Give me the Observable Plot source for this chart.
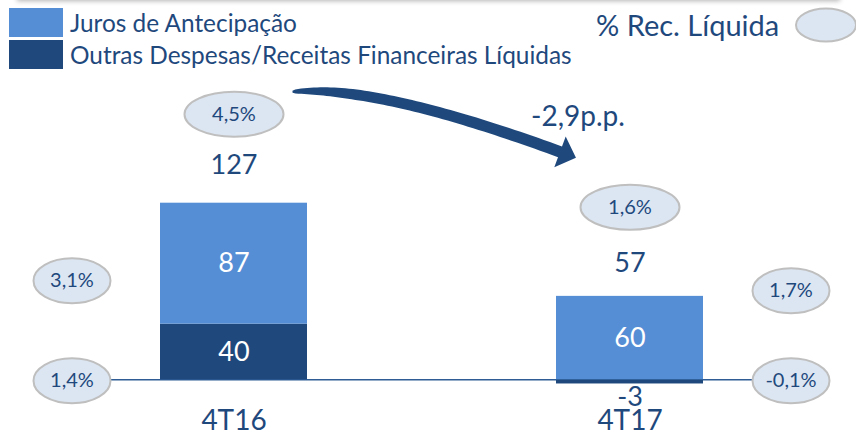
<!DOCTYPE html>
<html>
<head>
<meta charset="utf-8">
<script src="https://cdn.jsdelivr.net/npm/d3@7"></script>
<script src="https://cdn.jsdelivr.net/npm/@observablehq/plot@0.6"></script>
<style>
  html, body { margin: 0; padding: 0; background: #fff; }
  #wrap { position: relative; width: 856px; height: 432px; overflow: hidden; font-family: Lato, sans-serif; color: #1f497d; }
  #chart { position: absolute; left: 0; top: 0; }
  .shadow { position: absolute; left: 17px; width: 823px; top: -8px; height: 8px; box-shadow: 0 1px 5px rgba(0,0,0,0.30); background: #fff; }
  .lg-row { position: absolute; left: 9px; height: 29px; display: flex; align-items: center; }
  .lg-sw { width: 54px; height: 29px; margin-right: 7px; }
  .lg-tx { font-size: 24.4px; line-height: 29px; white-space: nowrap; }
  #pctlg { position: absolute; left: 596px; top: 10px; font-size: 29px; line-height: 29px; white-space: nowrap; }
  #pctell { position: absolute; left: 794px; top: 7px; }
</style>
</head>
<body>
<div id="wrap">
  <div id="chart"></div>
  <div class="shadow"></div>
  <div id="legend"></div>
</div>
<script>
// ---- data ----
const categories = ["4T16", "4T17"];
const seriesNames = ["Juros de Antecipação", "Outras Despesas/Receitas Financeiras Líquidas"];
const juros = [87, 60];
const outras = [40, -3];
const totals = [127, 57];
const pctTotal = ["4,5%", "1,6%"];
const pctJuros = ["3,1%", "1,7%"];
const pctOutras = ["1,4%", "-0,1%"];
const changeLabel = "-2,9p.p.";
const pctLegendLabel = "% Rec. Líquida";

// ---- styles ----
const navy = "#1f497d";
const light = "#558ed5";
const ellFill = "#dce6f2";
const ellStroke = "#bfbfbf";

// ---- legend (HTML) ----
const legend = document.getElementById("legend");
const swColors = [light, navy];
seriesNames.forEach((name, i) => {
  const row = document.createElement("div");
  row.className = "lg-row";
  row.style.top = (8 + i * 32) + "px";
  row.innerHTML = `<div class="lg-sw" style="background:${swColors[i]}"></div><div class="lg-tx"></div>`;
  row.querySelector(".lg-tx").textContent = name;
  legend.appendChild(row);
});
const pl = document.createElement("div");
pl.id = "pctlg"; pl.textContent = pctLegendLabel; legend.appendChild(pl);
legend.insertAdjacentHTML("beforeend",
  `<svg id="pctell" width="64" height="38"><ellipse cx="32" cy="18" rx="30" ry="16.5" fill="${ellFill}" stroke="${ellStroke}" stroke-width="2"/></svg>`);

// ---- tables ----
const rows = categories.flatMap((c, i) => [
  {cat: c, series: seriesNames[1], value: outras[i]},
  {cat: c, series: seriesNames[0], value: juros[i]}
]);
const tops = categories.map((c, i) => ({
  cat: c,
  total: totals[i],
  top: d3.sum([juros[i], outras[i]].filter(v => v > 0)),
  pct: pctTotal[i]
}));

// ellipse symbols
function ellipseSymbol(rx, ry) {
  const k = 0.5523;
  return {
    draw(ctx) {
      ctx.moveTo(rx, 0);
      ctx.bezierCurveTo(rx, k * ry, k * rx, ry, 0, ry);
      ctx.bezierCurveTo(-k * rx, ry, -rx, k * ry, -rx, 0);
      ctx.bezierCurveTo(-rx, -k * ry, -k * rx, -ry, 0, -ry);
      ctx.bezierCurveTo(k * rx, -ry, rx, -k * ry, rx, 0);
      ctx.closePath();
    }
  };
}
const wideEll = ellipseSymbol(49.5, 22.5);
const narrowEll = ellipseSymbol(38.5, 22.5);

const topDy = -89;

// side ellipses for each category
const sideMarks = categories.flatMap((c, i) => {
  const dx = i === 0 ? -162 : 161;
  const side = [
    {cat: c, base: 0, pct: pctJuros[i], dy: i === 0 ? -99 : -89},
    {cat: c, base: 0, pct: pctOutras[i], dy: 1}
  ];
  return side.flatMap(d => [
    Plot.dot([d], {x: "cat", y: "base", dx, dy: d.dy, r: 10, symbol: narrowEll, fill: ellFill, stroke: ellStroke, strokeWidth: 2}),
    Plot.text([d], {x: "cat", y: "base", dx, dy: d.dy, text: "pct", fontSize: 20, fill: navy})
  ]);
});

// curved arrow from 4T16 ellipse to 4T17 ellipse
function arrowMark(index, scales) {
  const x = scales.x, y = scales.y;
  const bw = x.bandwidth ? x.bandwidth() : 0;
  const e0 = [x(categories[0]) + bw / 2, y(tops[0].top) + topDy];
  const e1 = [x(categories[1]) + bw / 2, y(tops[1].top) + topDy];
  const S = [e0[0] + 59, e0[1] - 22];
  const C = [S[0] + 85, S[1] - 7];
  const B = [e1[0] - 69.5, e1[1] - 55];
  const pt = t => [
    (1 - t) ** 2 * S[0] + 2 * t * (1 - t) * C[0] + t * t * B[0],
    (1 - t) ** 2 * S[1] + 2 * t * (1 - t) * C[1] + t * t * B[1]
  ];
  const der = t => {
    const dx = 2 * (1 - t) * (C[0] - S[0]) + 2 * t * (B[0] - C[0]);
    const dy = 2 * (1 - t) * (C[1] - S[1]) + 2 * t * (B[1] - C[1]);
    const l = Math.hypot(dx, dy);
    return [dx / l, dy / l];
  };
  const N = 60, left = [], right = [];
  for (let j = 0; j <= N; j++) {
    const t = j / N;
    const p = pt(t), u = der(t), n = [-u[1], u[0]];
    const w = (2 + 8 * Math.sqrt(Math.min(1, t / 0.3)) + 1.5 * t) / 2;
    left.push([p[0] + n[0] * w, p[1] + n[1] * w]);
    right.push([p[0] - n[0] * w, p[1] - n[1] * w]);
  }
  const u = der(1), n = [-u[1], u[0]];
  const hw = 16.5, hl = 17;
  const head = [
    [B[0] + n[0] * hw, B[1] + n[1] * hw],
    [B[0] + u[0] * hl, B[1] + u[1] * hl],
    [B[0] - n[0] * hw, B[1] - n[1] * hw]
  ];
  const poly = [...left, ...head, ...right.reverse()];
  const g = d3.create("svg:g");
  g.append("path")
    .attr("d", "M" + poly.map(p => p[0].toFixed(2) + "," + p[1].toFixed(2)).join("L") + "Z")
    .attr("fill", navy);
  return g.node();
}

const chart = Plot.plot({
  width: 856,
  height: 432,
  marginLeft: 109,
  marginRight: 103,
  marginTop: 0,
  marginBottom: 22,
  style: {fontFamily: "Lato, sans-serif", fontSize: "27px", color: navy, background: "transparent", overflow: "visible"},
  x: {domain: categories, range: [159.5, 703.5], paddingInner: 0.628, paddingOuter: 0, align: 0.5},
  y: {domain: [0, 127], range: [379.3, 202.7], axis: null},
  color: {domain: seriesNames, range: [light, navy]},
  marks: [
    Plot.ruleY([0], {stroke: "#2f5c95", strokeWidth: 1.5}),
    Plot.barY(rows, Plot.stackY({x: "cat", y: "value", fill: "series"})),
    Plot.text(rows, Plot.stackY({x: "cat", y: "value", z: "series", text: d => String(d.value), fill: "white", fontSize: 27, filter: d => Math.abs(d.value) >= 10})),
    Plot.text(rows.filter(d => d.value < 0 && Math.abs(d.value) < 10), {x: "cat", y: "value", text: d => String(d.value), fill: navy, fontSize: 27, dy: 13}),
    Plot.text(tops, {x: "cat", y: "total", text: d => String(d.total), fill: navy, fontSize: 27, dy: -37.5}),
    Plot.dot(tops, {x: "cat", y: "top", dy: topDy, r: 10, symbol: wideEll, fill: ellFill, stroke: ellStroke, strokeWidth: 2}),
    Plot.text(tops, {x: "cat", y: "top", dy: topDy, text: "pct", fontSize: 20, fill: navy}),
    ...sideMarks,
    arrowMark,
    Plot.text([{cat: categories[1], top: tops[1].top, label: changeLabel}], {x: "cat", y: "top", text: "label", dx: -52, dy: -179, fontSize: 28, fill: navy}),
    Plot.axisX({tickSize: 0, tickPadding: 0, fontSize: 28, fill: navy, label: null})
  ]
});
document.getElementById("chart").appendChild(chart);
</script>
</body>
</html>
